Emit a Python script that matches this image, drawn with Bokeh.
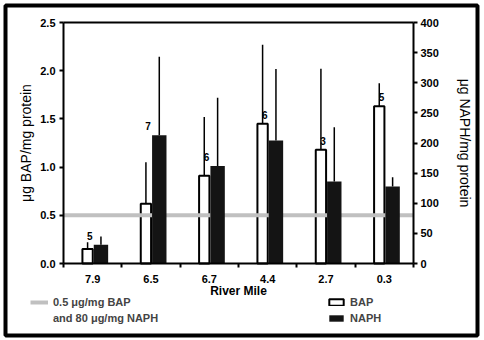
import numpy as np
from bokeh.plotting import figure
from bokeh.models import (Range1d, LinearAxis, FixedTicker, NumeralTickFormatter,
                          Legend, LegendItem, ColumnDataSource)
from bokeh.core.properties import value
from bokeh.embed import file_html
from bokeh.resources import INLINE

# ---- data ----
river_miles = ["7.9", "6.5", "6.7", "4.4", "2.7", "0.3"]
bap_mean = [0.15, 0.62, 0.91, 1.45, 1.18, 1.63]          # ug BAP / mg protein
bap_upper = [0.22, 1.05, 1.52, 2.27, 2.02, 1.87]
naph_mean = [31, 213, 162, 204, 136, 128]                 # ug NAPH / mg protein
naph_upper = [45, 343, 275, 323, 226, 143]
n_labels = ["5", "7", "6", "6", "3", "5"]
bap_threshold = 0.5
naph_threshold = 80
bap_ticks = [0.0, 0.5, 1.0, 1.5, 2.0, 2.5]
naph_ticks = [0, 50, 100, 150, 200, 250, 300, 350, 400]

FONT = "Liberation Sans"

# ---- layout (pixels) ----
W, H = 484, 340
FRAME_L, FRAME_R, FRAME_T, FRAME_B = 5, 477, 5, 335     # outer boxed frame
PLOT_L, PLOT_R, PLOT_T, PLOT_B = 63, 413, 22, 263       # axes box

n = len(river_miles)
px_x = (PLOT_R - PLOT_L) / n
px_y = (PLOT_B - PLOT_T) / (bap_ticks[-1] - bap_ticks[0])
x_lo = (FRAME_L - PLOT_L) / px_x
x_hi = n + (FRAME_R - PLOT_R) / px_x
y_lo = bap_ticks[0] - (FRAME_B - PLOT_B) / px_y
y_hi = bap_ticks[-1] + (PLOT_T - FRAME_T) / px_y
ratio = (naph_ticks[-1] - naph_ticks[0]) / (bap_ticks[-1] - bap_ticks[0])

centers = np.arange(n) + 0.5
bap_x = centers - 0.087
naph_x = centers + 0.142
label_y = [max(b, v / ratio) for b, v in zip(bap_mean, naph_mean)]

src = ColumnDataSource(dict(
    bap_x=bap_x, naph_x=naph_x, lab_x=centers - 0.05,
    bap=bap_mean, bap_hi=bap_upper, naph=naph_mean, naph_hi=naph_upper,
    lab=n_labels, lab_y=label_y))

p = figure(width=W, height=H, output_backend="svg", toolbar_location=None, title=None,
           x_range=Range1d(x_lo, x_hi), y_range=Range1d(y_lo, y_hi),
           min_border_left=FRAME_L, min_border_right=W - FRAME_R,
           min_border_top=FRAME_T, min_border_bottom=H - FRAME_B)
p.extra_y_ranges = {"naph": Range1d(y_lo * ratio, y_hi * ratio)}

p.xgrid.visible = False
p.ygrid.visible = False
p.outline_line_color = "black"
p.outline_line_width = 4
p.background_fill_color = "white"
p.border_fill_color = "white"

# bars
bap_r = p.vbar(x="bap_x", top="bap", bottom=0, width=0.177, source=src,
               fill_color="white", line_color="black", line_width=2)
thr = p.line(x=[0, n], y=[bap_threshold, bap_threshold], line_color="#c0c0c0", line_width=4)
naph_r = p.vbar(x="naph_x", top="naph", bottom=0, width=0.247, source=src,
                fill_color="#141414", line_color=None, y_range_name="naph")
# error bars (upper only)
p.segment(x0="bap_x", y0="bap", x1="bap_x", y1="bap_hi", source=src,
          line_color="black", line_width=1.5)
p.segment(x0="naph_x", y0="naph", x1="naph_x", y1="naph_hi", source=src,
          line_color="black", line_width=1.5, y_range_name="naph")
# sample counts
p.text(x="lab_x", y="lab_y", text="lab", source=src, text_align="center",
       text_baseline="bottom", y_offset=-5, text_font=value(FONT),
       text_font_size="10px", text_font_style="bold", text_color="black")

# x axis (drawn at y = 0)
xa = p.xaxis[0]
xa.fixed_location = 0
xa.bounds = (0, n)
xa.ticker = FixedTicker(ticks=list(centers), minor_ticks=list(range(n + 1)))
xa.major_label_overrides = {float(c): lab for c, lab in zip(centers, river_miles)}
xa.major_tick_out = 0
xa.major_tick_in = 0
xa.minor_tick_out = 4
xa.minor_tick_in = 0
xa.minor_tick_line_width = 2
xa.minor_tick_line_color = "black"
xa.axis_line_width = 2
xa.axis_label = "River Mile"
xa.major_label_standoff = 7
xa.axis_label_standoff = -2

# top edge of the axes box
ta = LinearAxis(fixed_location=bap_ticks[-1], bounds=(0, n), ticker=FixedTicker(ticks=[]),
                major_tick_line_color=None, minor_tick_line_color=None,
                major_label_text_font_size="0px", axis_line_width=2, axis_line_color="black")
p.add_layout(ta, "above")

# left axis (drawn at x = 0)
ya = p.yaxis[0]
ya.fixed_location = 0
ya.bounds = (bap_ticks[0], bap_ticks[-1])
ya.ticker = FixedTicker(ticks=bap_ticks)
ya.formatter = NumeralTickFormatter(format="0.0")
ya.axis_label = "\u03bcg BAP/mg protein"
ya.major_label_standoff = 4
ya.axis_label_standoff = 3

# right axis (drawn at x = n)
ra = LinearAxis(y_range_name="naph", ticker=FixedTicker(ticks=naph_ticks),
                axis_label="\u03bcg NAPH/mg protein", fixed_location=n,
                bounds=(naph_ticks[0], naph_ticks[-1]))
ra.major_label_standoff = 3
ra.axis_label_standoff = 15
ra.axis_label_orientation = "vertical"
p.add_layout(ra, "right")

for ax in (ya, ra):
    ax.major_tick_out = 4
    ax.major_tick_in = 0
    ax.minor_tick_line_color = None
    ax.axis_line_width = 2
    ax.major_tick_line_width = 2

for ax in (xa, ya, ra):
    ax.major_label_text_font = FONT
    ax.major_label_text_font_size = "11px"
    ax.major_label_text_font_style = "bold"
    ax.major_label_text_color = "black"
    ax.axis_label_text_font = FONT
    ax.axis_label_text_color = "black"
    ax.axis_line_color = "black"
    ax.major_tick_line_color = "black"
xa.axis_label_text_font_size = "12px"
xa.axis_label_text_font_style = "bold"
for ax in (ya, ra):
    ax.axis_label_text_font_size = "14px"
    ax.axis_label_text_font_style = "normal"

# legend (two columns: threshold note | bar series)
blank = p.line(x=[], y=[], line_alpha=0)
leg = Legend(items=[LegendItem(label="0.5 \u03bcg/mg BAP", renderers=[thr]),
                    LegendItem(label="and 80 \u03bcg/mg NAPH", renderers=[blank]),
                    LegendItem(label="BAP", renderers=[bap_r]),
                    LegendItem(label="NAPH", renderers=[naph_r])],
             nrows=2, location=(30 - FRAME_L, 10), glyph_width=18, glyph_height=8,
             label_height=15, label_width=273, spacing=1)
leg.padding = 0
leg.margin = 0
leg.border_line_color = None
leg.background_fill_alpha = 0
leg.label_text_font = FONT
leg.label_text_font_size = "11px"
leg.label_text_font_style = "bold"
leg.label_standoff = 5
p.add_layout(leg, "center")

open("out.html", "w").write(file_html(p, INLINE))
